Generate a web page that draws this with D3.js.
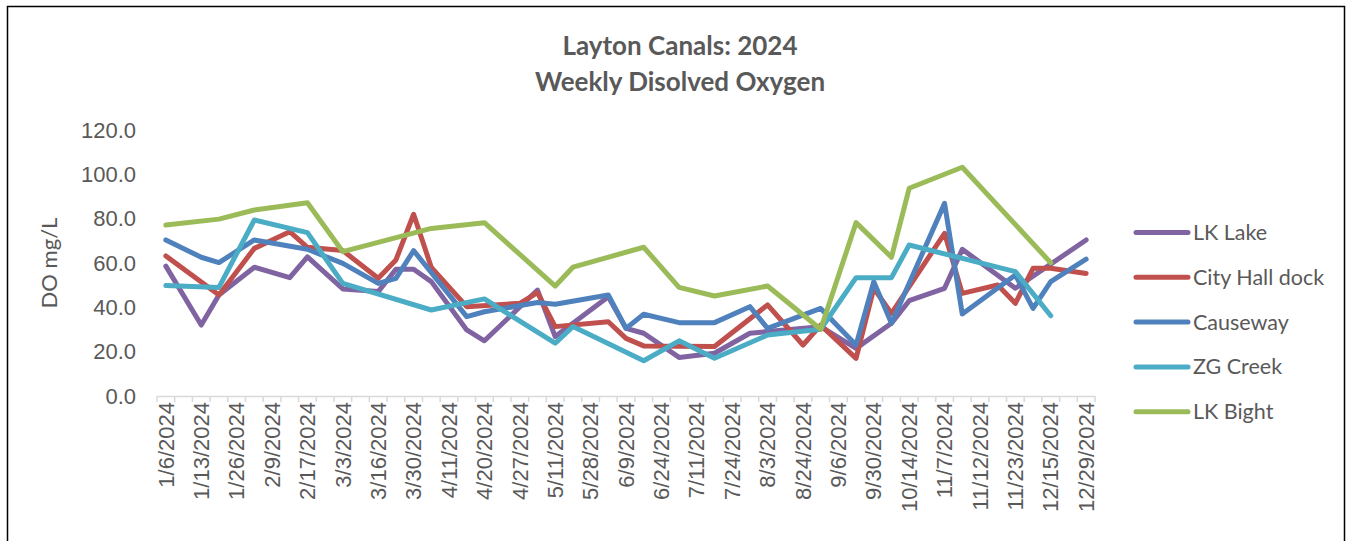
<!DOCTYPE html>
<head>
  <meta charset="utf-8">
  <style>
  body {
    margin: 0;
    background: #fff;
  }

  .chart {
    display: block;
    font-family: Lato, "Open Sans", sans-serif;
  }

  .axis text {
    fill: #595959;
  }

  .axis--x text {
    font-size: 22px;
  }

  .axis--y text {
    font-size: 22px;
  }

  .axis--y path {
    display: none;
  }

  .line {
    fill: none;
    stroke-width: 5px;
    stroke-linejoin: round;
    stroke-linecap: round;
  }
</style>
</head>
<svg class="chart" width="1350" height="541"></svg>

<script src="https://cdn.jsdelivr.net/npm/d3@7"></script>
<script>
// 53 sampling weeks, every other one labelled on the axis
var weekCount = 53;
var tickLabels = [
  "1/6/2024", "1/13/2024", "1/26/2024", "2/9/2024", "2/17/2024", "3/3/2024",
  "3/16/2024", "3/30/2024", "4/11/2024", "4/20/2024", "4/27/2024", "5/11/2024",
  "5/28/2024", "6/9/2024", "6/24/2024", "7/11/2024", "7/24/2024", "8/3/2024",
  "8/24/2024", "9/6/2024", "9/30/2024", "10/14/2024", "11/7/2024", "11/12/2024",
  "11/23/2024", "12/15/2024", "12/29/2024"
];

var seriesNames = ["LK Lake", "City Hall dock", "Causeway", "ZG Creek", "LK Bight"];
var seriesColors = ["#8064A2", "#C0504D", "#4F81BD", "#4BACC6", "#9BBB59"];

// sparse readings: [week index, DO mg/L]; gaps are joined by straight lines
var lkLake = [
  [0, 58.6], [2, 32.0], [3, 45.6], [5, 58.1], [7, 53.4], [8, 62.8], [10, 48.3],
  [12, 47.1], [13, 57.2], [14, 57.2], [15, 51.6], [17, 29.8], [18, 24.9],
  [21, 47.8], [22, 26.8], [25, 44.8], [26, 30.5], [27, 28.3], [29, 17.4],
  [31, 19.3], [33, 28.3], [37, 31.3], [39, 21.5], [41, 32.8], [42, 43.0],
  [44, 48.6], [45, 66.2], [48, 48.6], [52, 70.4]
];
var cityHallDock = [
  [0, 63.2], [3, 45.6], [5, 66.6], [7, 74.1], [8, 67.1], [10, 65.6], [12, 53.1],
  [13, 61.4], [14, 82.0], [15, 58.0], [17, 40.3], [20, 41.8], [21, 46.6],
  [22, 31.3], [25, 33.5], [26, 26.0], [27, 22.6], [31, 22.3], [34, 41.1],
  [36, 23.0], [37, 32.0], [39, 17.0], [40, 48.6], [41, 37.3], [44, 73.4],
  [45, 46.3], [47, 50.1], [48, 41.8], [49, 57.6], [50, 57.6], [52, 55.3]
];
var causeway = [
  [0, 70.4], [2, 62.6], [3, 60.2], [5, 70.4], [8, 66.2], [10, 59.8], [12, 50.8],
  [13, 53.1], [14, 65.6], [17, 35.8], [18, 38.0], [21, 42.2], [22, 41.4],
  [25, 45.6], [26, 30.5], [27, 36.9], [29, 33.1], [31, 33.1], [33, 40.3],
  [34, 30.5], [37, 39.5], [39, 23.0], [40, 51.6], [41, 32.8], [44, 86.9],
  [45, 37.0], [48, 54.6], [49, 39.5], [50, 51.6], [52, 61.7]
];
var zgCreek = [
  [0, 49.8], [3, 49.0], [5, 79.4], [8, 73.7], [10, 50.8], [15, 38.8], [18, 43.8],
  [22, 23.8], [23, 31.3], [27, 15.9], [29, 24.9], [31, 17.0], [34, 27.5],
  [37, 30.1], [39, 53.4], [41, 53.4], [42, 68.1], [48, 56.1], [50, 36.2]
];
var lkBight = [
  [0, 77.1], [3, 79.8], [5, 83.9], [8, 87.2], [10, 65.1], [15, 75.6], [18, 78.2],
  [22, 49.6], [23, 58.1], [27, 67.1], [29, 49.0], [31, 45.1], [34, 49.6],
  [37, 30.1], [39, 78.2], [41, 62.6], [42, 93.7], [45, 103.2], [50, 60.1]
];

var yTicks = [0, 20, 40, 60, 80, 100, 120];

var svg = d3.select("svg"),
  margin = { top: 130, right: 255, bottom: 145, left: 157 },
  width = svg.attr("width") - margin.left - margin.right,
  height = svg.attr("height") - margin.top - margin.bottom;

// outer chart frame
svg
  .append("rect")
  .attr("x", 7.5)
  .attr("y", 6.5)
  .attr("width", 1337)
  .attr("height", 600)
  .attr("fill", "none")
  .attr("stroke", "#000")
  .attr("stroke-width", 1.5);

svg
  .append("text")
  .attr("x", 680)
  .attr("y", 55)
  .attr("text-anchor", "middle")
  .attr("fill", "#595959")
  .style("font", "bold 26px Lato, sans-serif")
  .text("Layton Canals: 2024");

svg
  .append("text")
  .attr("x", 680)
  .attr("y", 91)
  .attr("text-anchor", "middle")
  .attr("fill", "#595959")
  .style("font", "bold 26px Lato, sans-serif")
  .text("Weekly Disolved Oxygen");

var g = svg
  .append("g")
  .attr("transform", "translate(" + margin.left + "," + margin.top + ")");

var x = d3.scaleBand().domain(d3.range(weekCount)).range([0, width]);
var y = d3.scaleLinear().domain([0, 120]).range([height, 0]);

// y axis
g
  .append("g")
  .attr("class", "axis axis--y")
  .call(
    d3.axisLeft(y)
      .tickValues(yTicks)
      .tickSize(0)
      .tickPadding(21)
      .tickFormat(d3.format(".1f"))
  );

g
  .append("text")
  .attr("transform", "translate(-100," + height / 2 + ") rotate(-90)")
  .attr("text-anchor", "middle")
  .attr("fill", "#595959")
  .style("font", "22px Lato, sans-serif")
  .text("DO mg/L");

// x axis: labels on every other week, tick marks between categories
var xAxis = g
  .append("g")
  .attr("class", "axis axis--x")
  .attr("transform", "translate(0," + height + ")")
  .call(
    d3.axisBottom(x)
      .tickValues(d3.range(0, weekCount, 2))
      .tickSize(0)
      .tickFormat(function(d) {
        return tickLabels[d / 2];
      })
  );

xAxis.select(".domain").attr("stroke", "#d9d9d9").attr("stroke-width", 1.5);

xAxis
  .selectAll(".tick text")
  .attr("transform", "rotate(-90)")
  .attr("text-anchor", "end")
  .attr("x", -6)
  .attr("y", 0)
  .attr("dy", "0.35em");

xAxis
  .selectAll(".boundary")
  .data(d3.range(weekCount + 1))
  .enter()
  .append("line")
  .attr("class", "boundary")
  .attr("x1", function(d) {
    return d * x.step();
  })
  .attr("x2", function(d) {
    return d * x.step();
  })
  .attr("y1", 0)
  .attr("y2", 6)
  .attr("stroke", "#d9d9d9")
  .attr("stroke-width", 1.5);

var line = d3
  .line()
  .x(function(d) {
    return x(d[0]) + x.bandwidth() / 2;
  })
  .y(function(d) {
    return y(d[1]);
  });

var seriesData = [lkLake, cityHallDock, causeway, zgCreek, lkBight];

g
  .selectAll(".line")
  .data(seriesData)
  .enter()
  .append("path")
  .attr("class", "line")
  .attr("d", line)
  .style("stroke", function(d, i) {
    return seriesColors[i];
  });

// legend
var legend = svg
  .selectAll(".legend")
  .data(seriesNames)
  .enter()
  .append("g")
  .attr("class", "legend")
  .attr("transform", function(d, i) {
    return "translate(1136," + (232.5 + i * 44.8) + ")";
  });

legend
  .append("line")
  .attr("x1", 0)
  .attr("x2", 52)
  .attr("stroke-width", 5)
  .attr("stroke-linecap", "round")
  .attr("stroke", function(d, i) {
    return seriesColors[i];
  });

legend
  .append("text")
  .attr("x", 57)
  .attr("dy", "0.35em")
  .attr("fill", "#595959")
  .style("font", "21.5px Lato, sans-serif")
  .text(function(d) {
    return d;
  });
</script>
